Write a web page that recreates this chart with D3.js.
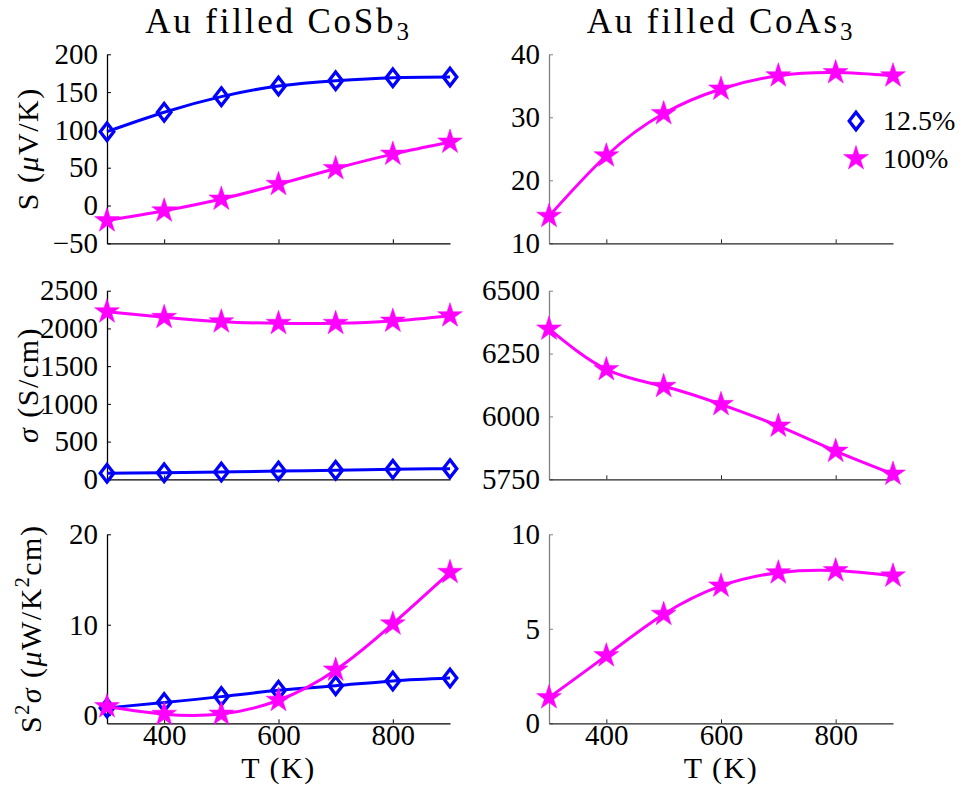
<!DOCTYPE html>
<html>
<head>
<meta charset="utf-8">
<script src="https://cdn.jsdelivr.net/npm/d3@7"></script>
<style>
  body { margin: 0; background: #fff; }
  svg text { font-family: "Liberation Serif", "DejaVu Serif", serif; fill: #000; }
</style>
</head>
<body>
<div class="canvas"></div>
<script>
// temperatures (K)
const temps = [300, 400, 500, 600, 700, 800, 900];

// Au filled CoSb3, 12.5% and 100% filling
const seebeckSb125 = [97.6, 123.3, 144, 158, 165, 169, 170];
const seebeckSb100 = [-20, -7, 8.6, 28, 49, 68, 84];
const sigmaSb125 = [80, 87, 97, 110, 119, 132, 141];
const sigmaSb100 = [2222, 2147, 2089, 2068, 2068, 2098, 2169];
const pfSb125 = [0.8, 1.4, 2.05, 2.75, 3.25, 3.78, 4.1];
const pfSb100 = [0.95, 0.1, 0.12, 1.65, 5.0, 10.1, 15.8];

// Au filled CoAs3, 100% only
const seebeckAs100 = [14.3, 23.9, 30.6, 34.5, 36.6, 37.1, 36.6];
const sigmaAs100 = [6348, 6187, 6120, 6048, 5962, 5862, 5771];
const pfAs100 = [1.36, 3.58, 5.77, 7.27, 7.97, 8.08, 7.8];

const xTicks = [400, 600, 800];
const legendLabels = ['12.5%', '100%'];

const W = 961, H = 794;
const cols = [[107, 450], [549, 893]];
const rows = [[54.3, 243.3], [290.7, 479.3], [534.3, 723.3]];
const blue = '#0000ff', magenta = '#ff00ff';

const svg = d3.select('.canvas').append('svg')
  .attr('width', W).attr('height', H);

// shared x scale per column
const xScale = c => d3.scaleLinear().domain([300, 900]).range(cols[c]);

// marker paths
const diamond = 'M0,-8.8L6.8,0L0,8.8L-6.8,0Z';
const star = d3.symbol().type(d3.symbolStar).size(190)();

const panels = [
  { col: 0, row: 0, domain: [-50, 200], ticks: [-50, 0, 50, 100, 150, 200],
    series: [[seebeckSb125, 'd'], [seebeckSb100, 's']],
    label: [['S ('], ['μ', 'i'], ['V/K)']], lx: 38 },
  { col: 0, row: 1, domain: [0, 2500], ticks: [0, 500, 1000, 1500, 2000, 2500],
    series: [[sigmaSb125, 'd'], [sigmaSb100, 's']],
    label: [['σ', 'i'], [' (S/cm)']], lx: 38 },
  { col: 0, row: 2, domain: [-0.9, 20], ticks: [0, 10, 20],
    series: [[pfSb125, 'd'], [pfSb100, 's']],
    label: [['S'], ['2', 'sup'], ['σ', 'i'], [' ('], ['μ', 'i'], ['W/K'], ['2', 'sup'], ['cm)']], lx: 41 },
  { col: 1, row: 0, domain: [10, 40], ticks: [10, 20, 30, 40],
    series: [[seebeckAs100, 's']] },
  { col: 1, row: 1, domain: [5750, 6500], ticks: [5750, 6000, 6250, 6500],
    series: [[sigmaAs100, 's']] },
  { col: 1, row: 2, domain: [0, 10], ticks: [0, 5, 10],
    series: [[pfAs100, 's']] }
];

panels.forEach(p => {
  const x = xScale(p.col);
  const y = d3.scaleLinear().domain(p.domain).range([rows[p.row][1], rows[p.row][0]]);
  const g = svg.append('g');
  const yCol = p.col === 1 ? '#808080' : '#000';
  const xCol = p.col === 1 ? '#262626' : '#000';

  // y axis, ticks inward
  const ya = g.append('g')
    .attr('transform', `translate(${cols[p.col][0]},0)`)
    .call(d3.axisLeft(y).tickValues(p.ticks).tickSize(-4).tickSizeOuter(0)
      .tickFormat(d3.format('d')));
  ya.select('.domain').attr('stroke', yCol).attr('stroke-width', 1.3);
  ya.selectAll('.tick line').attr('stroke', yCol);
  ya.selectAll('.tick text').attr('x', -9).attr('font-size', 29).attr('fill', '#000');

  // x axis, ticks inward
  const xa = g.append('g')
    .attr('transform', `translate(0,${rows[p.row][1]})`)
    .call(d3.axisBottom(x).tickValues(xTicks).tickSize(-4).tickSizeOuter(0));
  xa.select('.domain').attr('stroke', xCol).attr('stroke-width', 1.3);
  xa.selectAll('.tick line').attr('stroke', xCol);
  if (p.row === 2) {
    xa.selectAll('.tick text').attr('y', 1).attr('font-size', 29).attr('fill', '#000');
  } else {
    xa.selectAll('.tick text').remove();
  }

  const line = d3.line().x((d, i) => x(temps[i])).y(d => y(d)).curve(d3.curveNatural);

  p.series.forEach(([vals, kind]) => {
    const col = kind === 'd' ? blue : magenta;
    g.append('path').datum(vals)
      .attr('d', line)
      .attr('fill', 'none').attr('stroke', col).attr('stroke-width', 3);
    g.selectAll(null).data(vals).enter().append('path')
      .attr('transform', (d, i) => `translate(${x(temps[i])},${y(d)})`)
      .attr('d', kind === 'd' ? diamond : star)
      .attr('fill', kind === 'd' ? 'none' : magenta)
      .attr('stroke', col)
      .attr('stroke-width', kind === 'd' ? 3.3 : 0.5);
  });

  // y label, rotated, baseline on the right
  if (p.label) {
    const cy = (rows[p.row][0] + rows[p.row][1]) / 2;
    const t = g.append('text')
      .attr('transform', `translate(${p.lx},${cy}) rotate(-90)`)
      .attr('text-anchor', 'middle')
      .attr('font-size', 30).attr('letter-spacing', 1.5);
    let shifted = false;
    p.label.forEach(([s, st]) => {
      const ts = t.append('tspan').text(s);
      if (st === 'i') ts.attr('font-style', 'italic');
      if (st === 'sup') {
        ts.attr('font-size', 20).attr('dy', -12);
        shifted = true;
      } else if (shifted) {
        ts.attr('dy', 12);
        shifted = false;
      }
    });
  }

  // x label
  if (p.row === 2) {
    g.append('text')
      .attr('x', (cols[p.col][0] + cols[p.col][1]) / 2).attr('y', 778)
      .attr('text-anchor', 'middle').attr('font-size', 30)
      .attr('letter-spacing', 1.5)
      .text('T (K)');
  }
});

// titles
const titles = [['Au filled CoSb', '3'], ['Au filled CoAs', '3']];
titles.forEach((tt, c) => {
  const t = svg.append('text')
    .attr('x', (cols[c][0] + cols[c][1]) / 2).attr('y', 32.5)
    .attr('text-anchor', 'middle').attr('font-size', 35)
    .attr('letter-spacing', 2.8);
  t.append('tspan').text(tt[0]);
  t.append('tspan').text(tt[1]).attr('font-size', 25).attr('dy', 7);
});

// legend in top-right panel
const leg = svg.append('g').attr('transform', 'translate(856,121)');
legendLabels.forEach((lab, i) => {
  const row = leg.append('g').attr('transform', `translate(0,${i * 37.5})`);
  row.append('path')
    .attr('d', i === 0 ? diamond : star)
    .attr('fill', i === 0 ? 'none' : magenta)
    .attr('stroke', i === 0 ? blue : magenta)
    .attr('stroke-width', i === 0 ? 3.3 : 0.5);
  row.append('text').attr('x', 27).attr('y', 9)
    .attr('font-size', 28).text(lab);
});
</script>
</body>
</html>
